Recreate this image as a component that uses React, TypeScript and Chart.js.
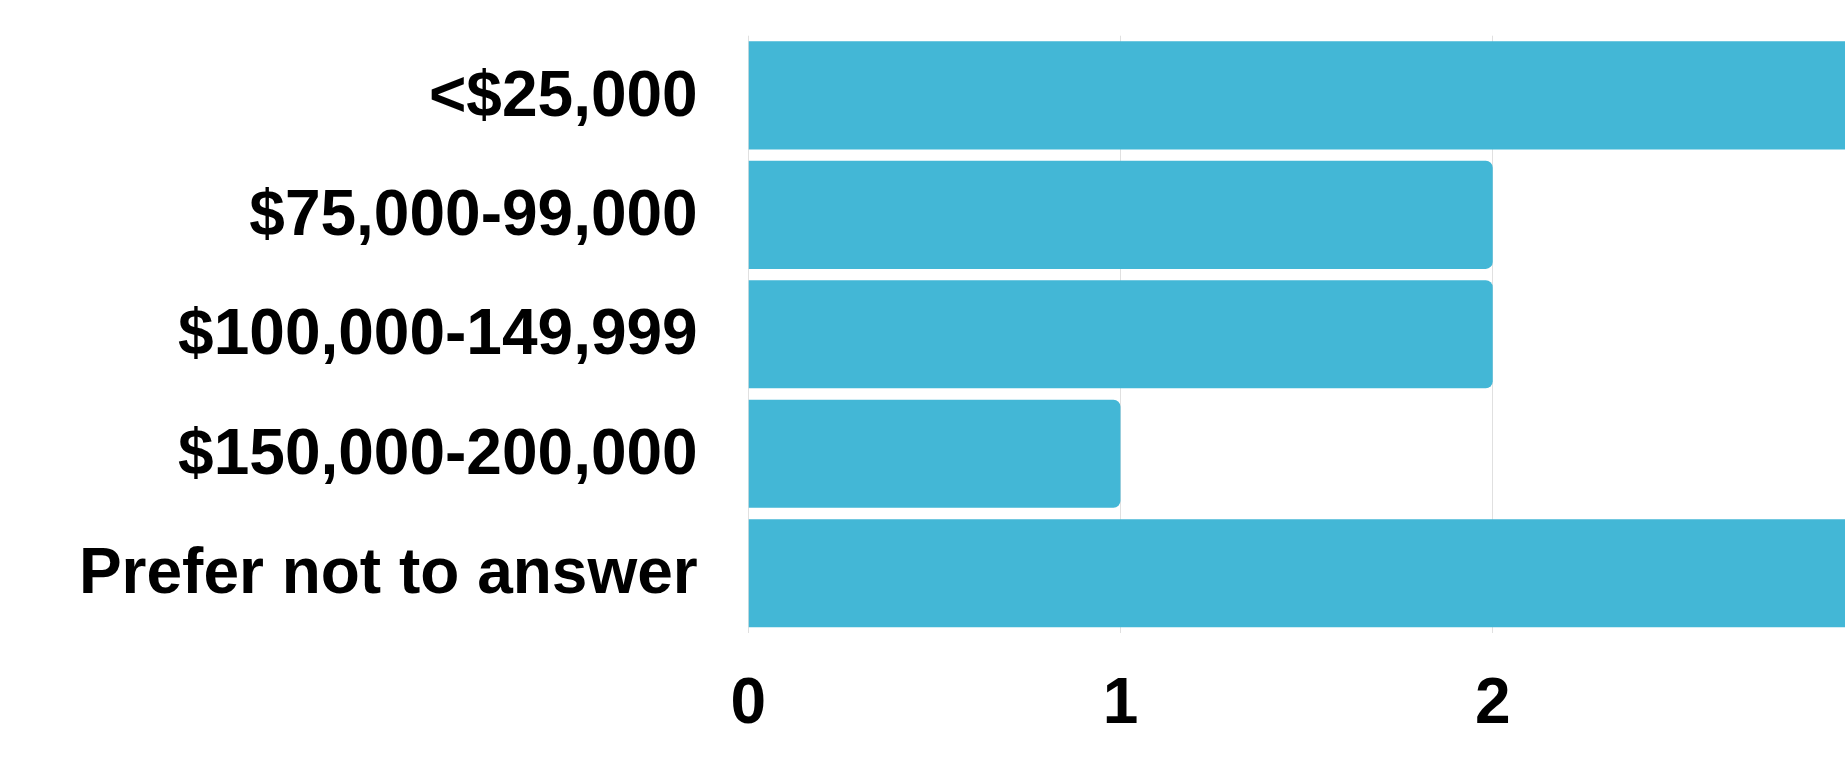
import React, { useEffect, useRef } from "react";
import { Chart, registerables } from "chart.js";

Chart.register(...registerables);

const categories = [
  "<$25,000",
  "$75,000-99,000",
  "$100,000-149,999",
  "$150,000-200,000",
  "Prefer not to answer",
];
const counts = [3, 2, 2, 1, 3];
const xTickValues = [0, 1, 2, 3];

const BAR_COLOR = "#43b7d6";
const FONT = "'Liberation Sans', Helvetica, Arial, sans-serif";

export default function App() {
  const ref = useRef<HTMLCanvasElement | null>(null);

  useEffect(() => {
    if (!ref.current) return;
    const chart = new Chart(ref.current, {
      type: "bar",
      data: {
        labels: categories,
        datasets: [
          {
            data: counts,
            backgroundColor: BAR_COLOR,
            borderWidth: 0,
            borderRadius: 7,
            borderSkipped: "start",
            barPercentage: 0.905,
            categoryPercentage: 1.0,
          },
        ],
      },
      options: {
        indexAxis: "y",
        responsive: false,
        animation: false,
        layout: { padding: { top: 27.7, right: 0, bottom: 0, left: 0 } },
        plugins: {
          legend: { display: false },
          tooltip: { enabled: false },
          title: { display: false },
        },
        scales: {
          x: {
            min: xTickValues[0],
            max: xTickValues[xTickValues.length - 1],
            afterBuildTicks: (axis: any) => {
              axis.ticks = xTickValues.map((v) => ({ value: v }));
            },
            grid: {
              display: true,
              drawTicks: false,
              color: "rgba(0,0,0,0.12)",
            },
            border: { display: false },
            ticks: {
              padding: 34,
              color: "#000",
              font: { family: FONT, size: 64, weight: "bold" },
              maxRotation: 0,
            },
            afterFit: (axis: any) => {
              axis.height = 120.1;
              axis.paddingLeft = 0;
              axis.paddingRight = 0;
            },
          },
          y: {
            grid: { display: false, drawTicks: false },
            border: { display: false },
            ticks: {
              padding: 50.5,
              labelOffset: 2.5,
              color: "#000",
              font: { family: FONT, size: 64, weight: "bold" },
            },
            afterFit: (axis: any) => {
              axis.width = 740.2;
              axis.paddingTop = 0;
              axis.paddingBottom = 0;
            },
          },
        },
      },
    });
    return () => chart.destroy();
  }, []);

  return (
    <div
      style={{
        position: "fixed",
        left: 8,
        top: 8,
        width: 1837,
        height: 745,
        overflow: "hidden",
      }}
    >
      <canvas ref={ref} width={1857} height={745} style={{ display: "block" }} />
    </div>
  );
}
